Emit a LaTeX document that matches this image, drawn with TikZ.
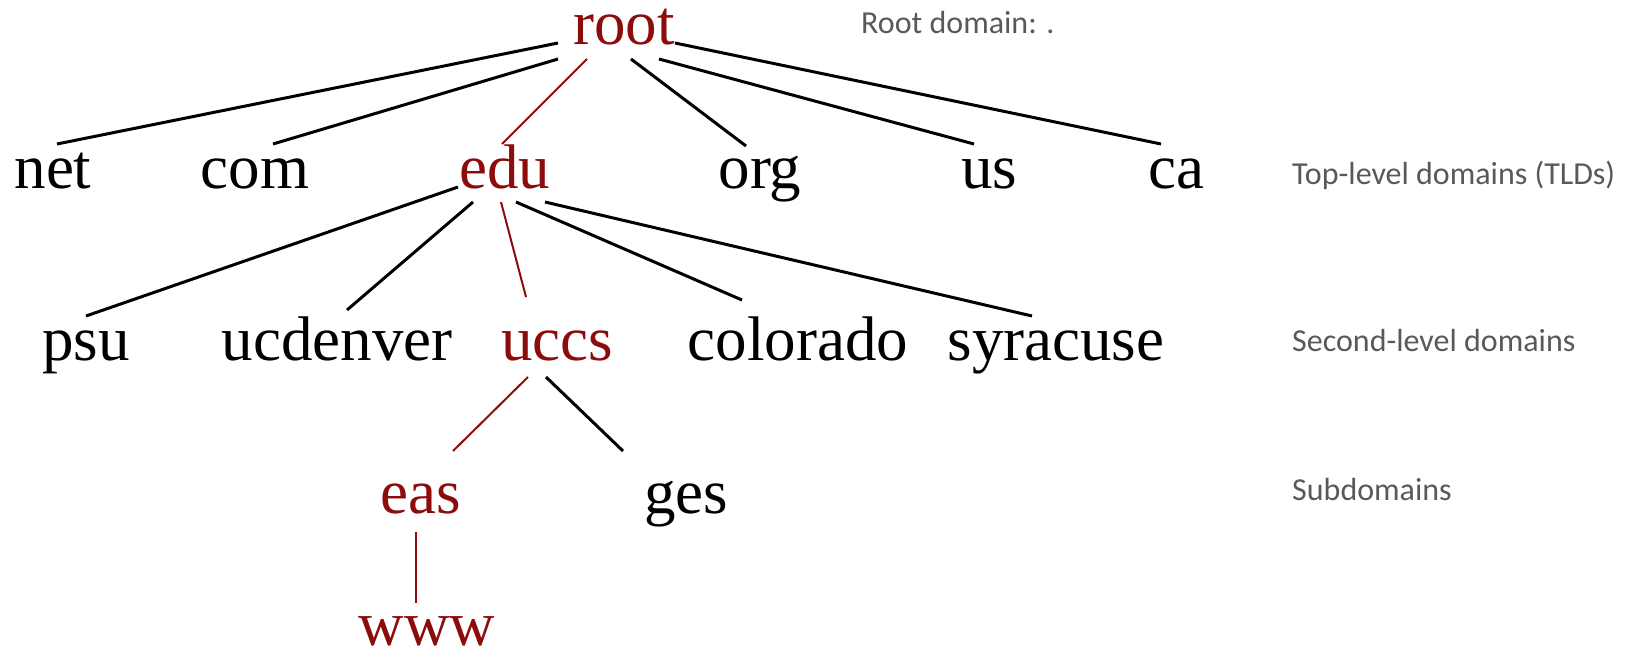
\documentclass[tikz,border=0pt]{standalone}
\usepackage{fontspec}
\setmainfont{Liberation Serif}
\newfontfamily\labelfont{Carlito}
\usetikzlibrary{calc}
\definecolor{pathred}{RGB}{140,12,12}
\definecolor{labelgray}{RGB}{89,89,89}
\begin{document}
\begin{tikzpicture}[x=1pt,y=-1pt,
  dom/.style={inner sep=0pt,anchor=base,font=\fontsize{63}{63}\selectfont},
  hot/.style={dom,text=pathred},
  level/.style={inner sep=0pt,anchor=base west,text=labelgray,font=\labelfont\fontsize{32}{32}\selectfont},
  edge/.style={draw=black,line width=3pt},
  hotedge/.style={draw=pathred,line width=2pt}]
\useasboundingbox (0,0) rectangle (1633,649);

% domain names
\node[hot] (root) at (624,44) {root};
\node[dom] (net) at (53,188) {net};
\node[dom] (com) at (255,188) {com};
\node[hot] (edu) at (505,188) {edu};
\node[dom] (org) at (760,188) {org};
\node[dom] (us) at (989,188) {us};
\node[dom] (ca) at (1176,188) {ca};
\node[dom] (psu) at (86,360) {psu};
\node[dom] (ucdenver) at (337,360) {ucdenver};
\node[hot] (uccs) at (557,360) {uccs};
\node[dom] (colorado) at (798,360) {colorado};
\node[dom] (syracuse) at (1056,360) {syracuse};
\node[hot] (eas) at (421,513) {eas};
\node[dom] (ges) at (686,513) {ges};
\node[hot] (www) at (427,645) {www};

% level captions
\node[level] (lroot) at (861,33) {Root domain: .};
\node[level] (ltld) at (1292,184) {Top-level domains (TLDs)};
\node[level] (lsld) at (1292,351) {Second-level domains};
\node[level] (lsub) at (1292,500) {Subdomains};

% root to top-level domains
\draw[edge] ($(root.base)+(-66,-1)$) -- ($(net.base)+(4,-44)$);
\draw[edge] ($(root.base)+(-66,15)$) -- ($(com.base)+(18,-44)$);
\draw[hotedge] ($(root.base)+(-37,15)$) -- ($(edu.base)+(-3,-44)$);
\draw[edge] ($(root.base)+(7,15)$) -- ($(org.base)+(-14,-42)$);
\draw[edge] ($(root.base)+(35,15)$) -- ($(us.base)+(-15,-44)$);
\draw[edge] ($(root.base)+(51,-1)$) -- ($(ca.base)+(-15,-44)$);

% edu to second-level domains
\draw[edge] ($(edu.base)+(-47,-1)$) -- ($(psu.base)+(0,-44)$);
\draw[edge] ($(edu.base)+(-32,14)$) -- ($(ucdenver.base)+(10,-50)$);
\draw[hotedge] ($(edu.base)+(-4,14)$) -- ($(uccs.base)+(-31,-63)$);
\draw[edge] ($(edu.base)+(11,14)$) -- ($(colorado.base)+(-56,-60)$);
\draw[edge] ($(edu.base)+(40,14)$) -- ($(syracuse.base)+(-24,-44)$);

% uccs to subdomains
\draw[hotedge] ($(uccs.base)+(-29,17)$) -- ($(eas.base)+(32,-62)$);
\draw[edge] ($(uccs.base)+(-11,17)$) -- ($(ges.base)+(-63,-62)$);

% eas to host
\draw[hotedge] ($(eas.base)+(-5,19)$) -- ($(www.base)+(-11,-42)$);
\end{tikzpicture}
\end{document}
